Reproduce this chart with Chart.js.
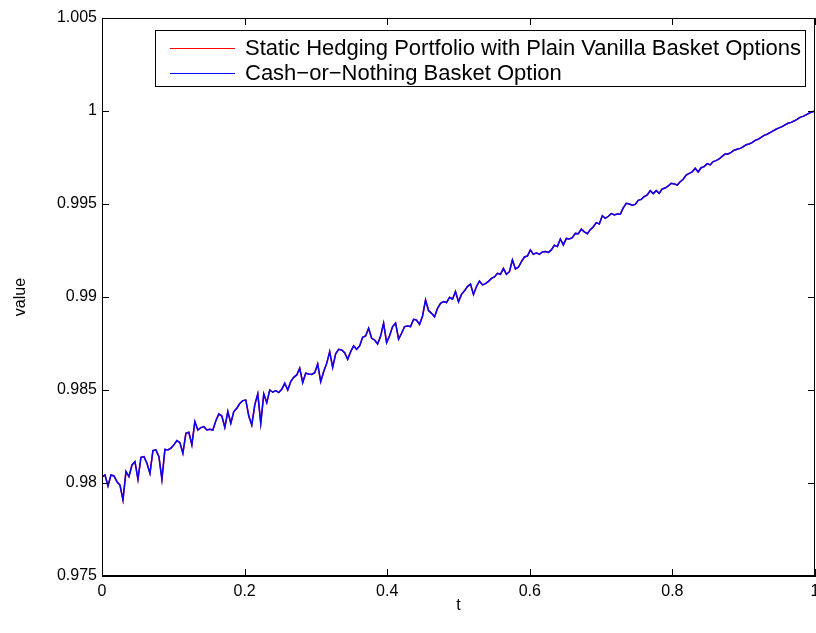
<!DOCTYPE html>
<html>
<head>
<meta charset="utf-8">
<script src="https://cdn.jsdelivr.net/npm/chart.js@4.4.0/dist/chart.umd.min.js"></script>
<style>
  html, body { margin: 0; padding: 0; background: #fff; }
</style>
</head>
<body>
<canvas id="chart" width="816" height="633"></canvas>
<script>
// values, 239 samples from t=0 to t=1
var optionValue = [
  0.98031, 0.98043, 0.97984, 0.98043, 0.98038, 0.98007, 0.97989, 0.97909, 0.98061, 0.98034,
  0.98097, 0.98115, 0.98020, 0.98138, 0.98142, 0.98106, 0.98052, 0.98174, 0.98178, 0.98142,
  0.98020, 0.98181, 0.98178, 0.98187, 0.98205, 0.98228, 0.98217, 0.98160, 0.98267, 0.98273,
  0.98205, 0.98330, 0.98285, 0.98298, 0.98303, 0.98285, 0.98289, 0.98285, 0.98335, 0.98371,
  0.98360, 0.98299, 0.98384, 0.98321, 0.98384, 0.98402, 0.98428, 0.98443, 0.98446, 0.98360,
  0.98312, 0.98420, 0.98479, 0.98321, 0.98479, 0.98432, 0.98500, 0.98488, 0.98497, 0.98486,
  0.98504, 0.98536, 0.98500, 0.98545, 0.98568, 0.98581, 0.98617, 0.98540, 0.98590, 0.98586,
  0.98584, 0.98593, 0.98640, 0.98545, 0.98599, 0.98643, 0.98706, 0.98622, 0.98694, 0.98719,
  0.98715, 0.98701, 0.98665, 0.98706, 0.98737, 0.98719, 0.98737, 0.98783, 0.98790, 0.98832,
  0.98778, 0.98769, 0.98747, 0.98790, 0.98859, 0.98755, 0.98792, 0.98841, 0.98859, 0.98773,
  0.98805, 0.98841, 0.98844, 0.98841, 0.98880, 0.98876, 0.98853, 0.98898, 0.98984, 0.98927,
  0.98912, 0.98894, 0.98939, 0.98966, 0.98975, 0.98970, 0.98998, 0.98988, 0.99029, 0.98975,
  0.99014, 0.99034, 0.99056, 0.99070, 0.99014, 0.99056, 0.99086, 0.99065, 0.99072, 0.99084,
  0.99100, 0.99108, 0.99127, 0.99122, 0.99154, 0.99122, 0.99136, 0.99199, 0.99151, 0.99160,
  0.99190, 0.99215, 0.99220, 0.99253, 0.99229, 0.99237, 0.99229, 0.99242, 0.99244, 0.99240,
  0.99253, 0.99278, 0.99271, 0.99312, 0.99280, 0.99315, 0.99312, 0.99319, 0.99342, 0.99340,
  0.99365, 0.99350, 0.99340, 0.99362, 0.99378, 0.99400, 0.99393, 0.99437, 0.99423, 0.99434,
  0.99448, 0.99441, 0.99446, 0.99445, 0.99479, 0.99504, 0.99500, 0.99493, 0.99498, 0.99520,
  0.99525, 0.99540, 0.99549, 0.99572, 0.99556, 0.99572, 0.99557, 0.99581, 0.99586, 0.99597,
  0.99611, 0.99608, 0.99602, 0.99620, 0.99633, 0.99656, 0.99665, 0.99672, 0.99692, 0.99672,
  0.99695, 0.99701, 0.99717, 0.99710, 0.99728, 0.99733, 0.99742, 0.99756, 0.99769, 0.99769,
  0.99778, 0.99789, 0.99794, 0.99799, 0.99807, 0.99819, 0.99823, 0.99830, 0.99842, 0.99848,
  0.99858, 0.99869, 0.99875, 0.99884, 0.99893, 0.99902, 0.99909, 0.99916, 0.99925, 0.99934,
  0.99939, 0.99946, 0.99955, 0.99966, 0.99971, 0.99979, 0.99988, 0.99995, 1.00000
];
// the hedge portfolio sits on top of the option value everywhere
var hedgeValue = optionValue.slice();

var xTicks = [0, 0.2, 0.4, 0.6, 0.8, 1];
var yTicks = [0.975, 0.98, 0.985, 0.99, 0.995, 1, 1.005];
var seriesNames = ['Static Hedging Portfolio with Plain Vanilla Basket Options', 'Cash\u2212or\u2212Nothing Basket Option'];

function toPoints(vals) {
  return vals.map(function(v, i) { return { x: i / (vals.length - 1), y: v }; });
}

var tickFont = { family: 'Liberation Sans, Arial, sans-serif', size: 16 };

// inward tick marks on all four sides, the box, and the boxed legend
var matlabBox = {
  id: 'matlabBox',
  afterDatasetsDraw: function(chart) {
    var ctx = chart.ctx, a = chart.chartArea;
    var sx = chart.scales.x, sy = chart.scales.y;
    ctx.save();
    ctx.strokeStyle = '#000';
    ctx.lineWidth = 1;
    ctx.beginPath();
    sx.ticks.forEach(function(t) {
      var px = Math.round(sx.getPixelForValue(t.value)) + 0.5;
      ctx.moveTo(px, a.bottom); ctx.lineTo(px, a.bottom - 7);
      ctx.moveTo(px, a.top); ctx.lineTo(px, a.top + 7);
    });
    sy.ticks.forEach(function(t) {
      var py = Math.round(sy.getPixelForValue(t.value)) + 0.5;
      ctx.moveTo(a.left, py); ctx.lineTo(a.left + 7, py);
      ctx.moveTo(a.right, py); ctx.lineTo(a.right - 7, py);
    });
    ctx.stroke();
    ctx.strokeRect(a.left + 0.5, a.top + 0.5, a.right - a.left - 1, a.bottom - a.top - 1);

    // legend
    var L = a.left + 53, T = a.top + 12, R = a.right - 9, B = a.top + 69;
    ctx.fillStyle = '#fff';
    ctx.fillRect(L, T, R - L, B - T);
    ctx.strokeRect(L + 0.5, T + 0.5, R - L - 1, B - T - 1);
    ctx.font = '22px Liberation Sans, Arial, sans-serif';
    ctx.textBaseline = 'middle';
    ctx.textAlign = 'left';
    var rows = [T + 18, T + 43];
    var cols = ['#ff0000', '#0000ff'];
    for (var i = 0; i < 2; i++) {
      ctx.strokeStyle = cols[i];
      ctx.beginPath();
      ctx.moveTo(L + 15, rows[i] + 0.5);
      ctx.lineTo(L + 80, rows[i] + 0.5);
      ctx.stroke();
      ctx.fillStyle = '#000';
      ctx.fillText(seriesNames[i], L + 90, rows[i] + 1);
    }
    ctx.restore();
  }
};

new Chart(document.getElementById('chart'), {
  type: 'line',
  data: {
    datasets: [
      { label: seriesNames[0], data: toPoints(hedgeValue), borderColor: '#ff0000', borderWidth: 1.5, pointRadius: 0, tension: 0, order: 1 },
      { label: seriesNames[1], data: toPoints(optionValue), borderColor: '#0000ff', borderWidth: 1.5, pointRadius: 0, tension: 0, order: 0 }
    ]
  },
  options: {
    responsive: false,
    animation: false,
    devicePixelRatio: 1,
    layout: { padding: { top: 18, right: 1, left: 0, bottom: 0 } },
    plugins: { legend: { display: false }, tooltip: { enabled: false } },
    scales: {
      x: {
        type: 'linear', min: 0, max: 1,
        afterBuildTicks: function(s) { s.ticks = xTicks.map(function(v) { return { value: v }; }); },
        afterFit: function(s) { s.height = 57; s.paddingLeft = 0; s.paddingRight = 0; },
        grid: { display: false, drawTicks: false },
        border: { display: true, color: '#000' },
        ticks: { color: '#000', font: tickFont, padding: 6, maxRotation: 0,
          callback: function(v) { return String(Number(v.toFixed(3))); } },
        title: { display: true, text: 't', color: '#000', font: tickFont, padding: { top: 0, bottom: 18 } }
      },
      y: {
        type: 'linear', min: 0.975, max: 1.005,
        afterBuildTicks: function(s) { s.ticks = yTicks.map(function(v) { return { value: v }; }); },
        afterFit: function(s) { s.width = 102; s.paddingTop = 0; s.paddingBottom = 0; },
        grid: { display: false, drawTicks: false },
        border: { display: true, color: '#000' },
        ticks: { color: '#000', font: tickFont, padding: 5,
          callback: function(v) { return String(Number(v.toFixed(3))); } },
        title: { display: true, text: 'value', color: '#000', font: tickFont, padding: { top: 11, bottom: 0 } }
      }
    }
  },
  plugins: [matlabBox]
});
</script>
</body>
</html>
